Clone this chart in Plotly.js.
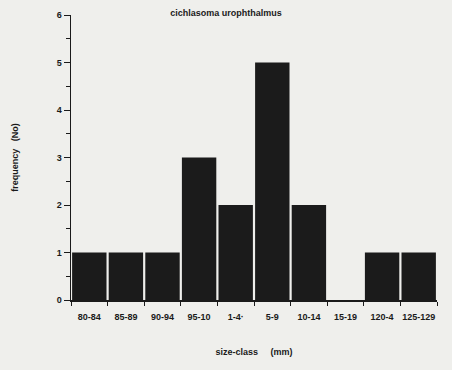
<!DOCTYPE html>
<html><head><meta charset="utf-8">
<script src="https://cdn.plot.ly/plotly-3.0.1.min.js"></script>
<style>body{margin:0;background:#efefec;} #c{width:452px;height:370px;}</style>
</head><body><div id="c"></div>
<script>
const categories = ["80-84","85-89","90-94","95-10","1-4·","5-9","10-14","15-19","120-4","125-129"];
const frequency = [1,1,1,3,2,5,2,0,1,1];
const yTicks = [0,1,2,3,4,5,6];

const font = {family:"Liberation Sans, Arial, sans-serif", color:"#1a1a1a"};
const narrow = {family:"Liberation Sans Narrow, Arial Narrow, Liberation Sans, sans-serif", color:"#1a1a1a"};
Plotly.newPlot("c", [{
  type:"bar", x:categories, y:frequency,
  marker:{color:"#1b1b1b", line:{width:0}},
  width:0.94
}], {
  width:452, height:370,
  paper_bgcolor:"#efefec", plot_bgcolor:"#efefec",
  margin:{l:71, r:15, t:15, b:70},
  showlegend:false,
  title:{text:"<b>cichlasoma urophthalmus</b>", x:0.5, xref:"container", y:0.965, yanchor:"middle",
         font:Object.assign({}, font, {size:9})},
  xaxis:{type:"category", range:[-0.5,9.5], showline:true, linecolor:"#1a1a1a", linewidth:1.5,
         ticks:"outside", tickson:"boundaries", ticklen:4, tickcolor:"#1a1a1a", showgrid:false,
         tickangle:0, automargin:false, ticklabelstandoff:8,
         tickfont:Object.assign({}, narrow, {size:9, weight:"bold"}),
         title:{text:"<b>size-class     (mm)</b>", standoff:27, font:Object.assign({}, font, {size:9})}},
  yaxis:{range:[0,6], tickvals:yTicks, showline:true, linecolor:"#1a1a1a", linewidth:1.5,
         ticks:"outside", ticklen:6, tickcolor:"#1a1a1a", showgrid:false, zeroline:false,
         minor:{dtick:0.5, ticks:"outside", ticklen:4, tickcolor:"#1a1a1a"},
         automargin:false,
         tickfont:Object.assign({}, font, {size:9, weight:"bold"}),
         title:{text:"<b>frequency   (No)</b>", standoff:36, font:Object.assign({}, font, {size:9})}}
}, {displayModeBar:false, staticPlot:true});
</script></body></html>
